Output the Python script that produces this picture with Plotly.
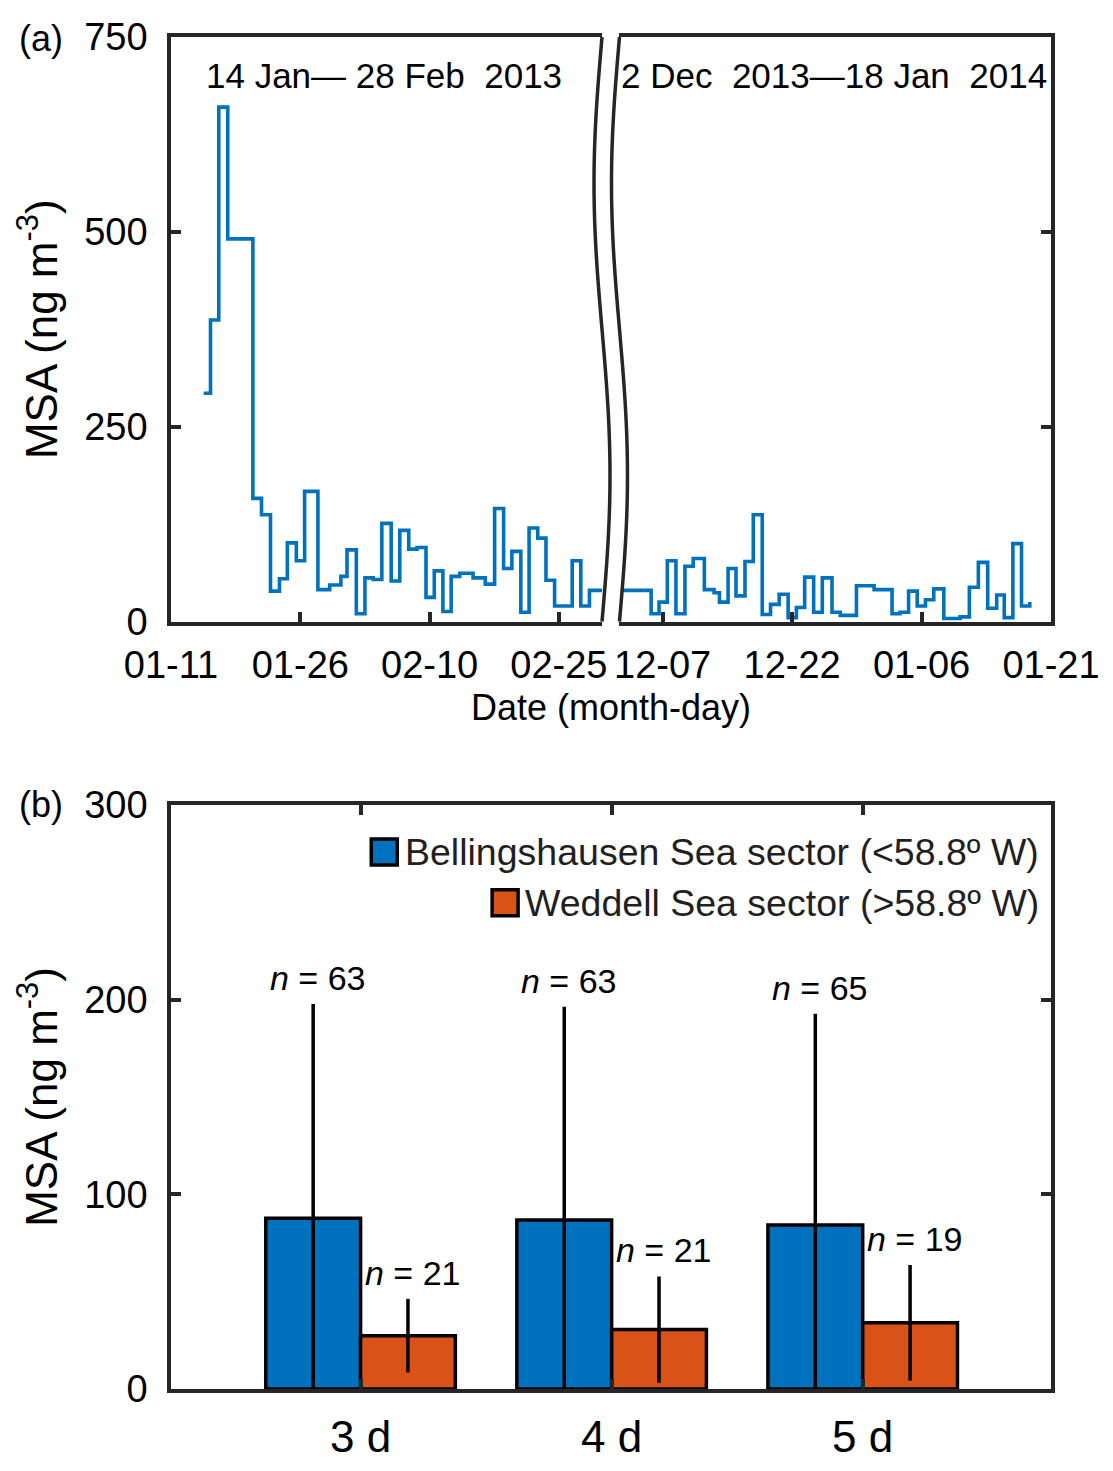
import numpy as np
import plotly.graph_objects as go

# ---------------- data ----------------
msa_dates = [
    "2013-01-14 19:00", "2013-01-15 14:00", "2013-01-16 13:00", "2013-01-17 14:00",
    "2013-01-20 12:00", "2013-01-21 12:00", "2013-01-22 13:00", "2013-01-23 14:00",
    "2013-01-24 12:00", "2013-01-25 13:00", "2013-01-26 12:00", "2013-01-28 01:00",
    "2013-01-29 10:00", "2013-01-30 17:00", "2013-01-31 10:00", "2013-02-01 12:00",
    "2013-02-02 12:00", "2013-02-03 11:00", "2013-02-04 11:00", "2013-02-05 13:00",
    "2013-02-06 13:00", "2013-02-07 14:00", "2013-02-08 13:00", "2013-02-09 14:00",
    "2013-02-10 13:00", "2013-02-11 13:00", "2013-02-12 12:00", "2013-02-13 12:00",
    "2013-02-15 01:00", "2013-02-16 11:00", "2013-02-17 13:00", "2013-02-18 14:00",
    "2013-02-19 13:00", "2013-02-20 14:00", "2013-02-21 13:00", "2013-02-22 13:00",
    "2013-02-23 12:00", "2013-02-24 12:00", "2013-02-26 13:00", "2013-02-27 13:00",
    "2013-02-28 13:00",
    "2013-12-05 16:00", "2013-12-06 14:00", "2013-12-07 13:00", "2013-12-08 13:00",
    "2013-12-09 14:00", "2013-12-10 13:00", "2013-12-11 20:00", "2013-12-12 23:00",
    "2013-12-13 14:00", "2013-12-14 14:00", "2013-12-15 12:00", "2013-12-16 13:00",
    "2013-12-17 12:00", "2013-12-18 13:00", "2013-12-19 12:00", "2013-12-20 12:00",
    "2013-12-21 13:00", "2013-12-22 12:00", "2013-12-23 11:00", "2013-12-24 12:00",
    "2013-12-25 12:00", "2013-12-26 15:00", "2013-12-27 14:00", "2013-12-29 11:00",
    "2013-12-31 12:00", "2014-01-02 14:00", "2014-01-03 12:00", "2014-01-04 12:00",
    "2014-01-05 12:00", "2014-01-06 11:00", "2014-01-07 10:00", "2014-01-08 14:00",
    "2014-01-10 11:00", "2014-01-11 13:00", "2014-01-12 14:00", "2014-01-13 16:00",
    "2014-01-14 17:00", "2014-01-15 14:00", "2014-01-16 14:00", "2014-01-17 14:00",
    "2014-01-18 13:00",
]
msa_values = [
    293, 387, 660, 491,
    158, 137, 39, 55,
    101, 78, 167, 41,
    47, 58, 92, 10,
    56, 54, 126, 52,
    117, 93, 95, 31,
    65, 13, 58, 62,
    56, 48, 145, 68,
    90, 12, 120, 107,
    53, 20, 78, 20,
    40,
    10, 25, 78, 10,
    71, 81, 41, 37,
    25, 68, 33, 77,
    137, 9, 22, 35,
    5, 18, 57, 12,
    56, 12, 8, 46,
    41, 10, 12, 39,
    20, 28, 42, 4,
    6, 44, 76, 17,
    34, 5, 100, 20,
    25,
]
period1_range = ["2013-01-11", "2013-03-02"]
period2_range = ["2013-12-02", "2014-01-21"]
period1_label = "14 Jan\u2014 28 Feb\u00a0\u00a02013"
period2_label = "2 Dec\u00a0\u00a02013\u201418 Jan\u00a0\u00a02014"

windows = ["3 d", "4 d", "5 d"]
bell_mean = [87.7, 86.8, 84.2]
bell_err = [110.0, 109.6, 108.6]
bell_n = [63, 63, 65]
wedd_mean = [27.4, 30.5, 34.0]
wedd_err = [18.9, 27.3, 29.7]
wedd_n = [21, 21, 19]
series_names = ["Bellingshausen Sea sector (<58.8\u00ba W)",
                "Weddell Sea sector (>58.8\u00ba W)"]

# ---------------- styling / geometry ----------------
FONT = "Liberation Sans, Arial, Helvetica, sans-serif"
BLUE = "#0072BD"
ORANGE = "#D95319"
AX = "#262626"
PAGE_OFF = 8                      # default page margin around the figure
W, H = 1113 - PAGE_OFF, 1471 - PAGE_OFF
# target frame edges in window pixels
L_PX, R_PX = 170.5, 1051.5
TA_PX, BA_PX = 36.5, 621.5
TB_PX, BB_PX = 805.0, 1389.5
ML = L_PX - PAGE_OFF
MR = W - (R_PX - PAGE_OFF)
MT = TA_PX - PAGE_OFF
MB = H - (BB_PX - PAGE_OFF)
PW, PH = W - ML - MR, H - MT - MB


def pxx(xp):
    return (xp - PAGE_OFF - ML) / PW


def pxy(yp):
    return (H - MB - (yp - PAGE_OFF)) / PH


ya_dom = [pxy(BA_PX), 1.0]
yb_dom = [0.0, pxy(TB_PX)]
xl_dom = [0.0, pxx(602)]
xr_dom = [pxx(619.5), 1.0]

fig = go.Figure()

# panel (a): same series on both broken axes
for xa, ya in (("x", "y"), ("x2", "y2")):
    fig.add_trace(go.Scatter(
        x=msa_dates, y=msa_values, mode="lines", line_shape="hv",
        line=dict(color=BLUE, width=3.6), xaxis=xa, yaxis=ya, showlegend=False,
        hoverinfo="x+y"))

# panel (b): grouped bars
xpos = [1, 2, 3]
for means, errs, col, nm in ((bell_mean, bell_err, BLUE, series_names[0]),
                             (wedd_mean, wedd_err, ORANGE, series_names[1])):
    fig.add_trace(go.Bar(
        x=xpos, y=means, name=nm, xaxis="x3", yaxis="y3", showlegend=False,
        marker=dict(color=col, line=dict(color="black", width=3.5)),
        error_y=dict(type="data", array=errs, visible=True, color="black",
                     thickness=3.5, width=0)))

tickfont = dict(family=FONT, size=38, color="black")
common = dict(showline=True, linecolor=AX, linewidth=3.5, ticks="inside",
              ticklen=10, tickwidth=3.5, tickcolor=AX, showgrid=False,
              zeroline=False, tickfont=tickfont, automargin=False)
ytitle = dict(text="MSA (ng m<sup>-3</sup>)",
              font=dict(family=FONT, size=44, color="black"), standoff=14)

fig.update_layout(
    template="none",
    width=W, height=H, paper_bgcolor="white", plot_bgcolor="white",
    margin=dict(l=ML, r=MR, t=MT, b=MB, autoexpand=False),
    font=dict(family=FONT, color="black"),
    showlegend=False,
    barmode="group", bargap=0.245, bargroupgap=0.0,
    xaxis=dict(domain=xl_dom, anchor="y", type="date", range=period1_range,
               tick0="2013-01-11", dtick=15 * 86400000, tickformat="%m-%d",
               mirror=True, ticklabelstandoff=7, **common),
    xaxis2=dict(domain=xr_dom, anchor="y2", type="date", range=period2_range,
                tick0="2013-12-07", dtick=15 * 86400000, tickformat="%m-%d",
                mirror=True, ticklabelstandoff=7, **common),
    yaxis=dict(domain=ya_dom, anchor="x", range=[0, 750], tick0=0, dtick=250,
               ticklabelstandoff=12, title=ytitle, **common),
    yaxis2=dict(domain=ya_dom, anchor="x2", range=[0, 750], tick0=0, dtick=250,
                side="right", showticklabels=False, **common),
    xaxis3=dict(domain=[0, 1], anchor="y3", range=[0.245, 3.75],
                tickmode="array", tickvals=xpos, ticktext=windows,
                mirror="ticks", ticklabelstandoff=6,
                **{**common, "tickfont": dict(family=FONT, size=44, color="black")}),
    yaxis3=dict(domain=yb_dom, anchor="x3", range=[0, 300], tick0=0, dtick=100,
                mirror="ticks", ticklabelstandoff=12, title=ytitle, **common),
)

# axis-break: white mask and two wavy lines
ys = np.linspace(TA_PX, BA_PX, 80)
wave = 8 * np.sin(2 * np.pi * (ys - TA_PX) / (BA_PX - TA_PX))
left_x = 602 - wave
right_x = 619.5 - wave


def path_of(xs, yv, close=False):
    s = "M " + " L ".join(f"{pxx(a):.5f},{pxy(b):.5f}" for a, b in zip(xs, yv))
    return s + (" Z" if close else "")


mask = path_of(np.concatenate([left_x, right_x[::-1]]),
               np.concatenate([ys, ys[::-1]]), close=True)
fig.add_shape(type="path", path=mask, xref="paper", yref="paper",
              fillcolor="white", line=dict(width=0), layer="above")
for xs in (left_x, right_x):
    fig.add_shape(type="path", path=path_of(xs, ys), xref="paper", yref="paper",
                  line=dict(color=AX, width=3.5), layer="above")

# legend (MATLAB style, right aligned) as key boxes + text
legend_rows = [(852, 371, BLUE), (903, 492, ORANGE)]
for (yc, xk, col), nm in zip(legend_rows, series_names):
    fig.add_shape(type="rect", xref="paper", yref="paper",
                  x0=pxx(xk), x1=pxx(xk + 26), y0=pxy(yc + 13), y1=pxy(yc - 13),
                  fillcolor=col, line=dict(color="black", width=3.5), layer="above")
    fig.add_annotation(text=nm, x=pxx(1041), y=pxy(yc), xref="paper", yref="paper",
                       showarrow=False, xanchor="right", yanchor="middle",
                       font=dict(size=37.5, color="#231F20"))

# annotations
fig.add_annotation(text=period1_label, x=pxx(383.5), y=pxy(75), xref="paper",
                   yref="paper", showarrow=False, font=dict(size=35),
                   xanchor="center", yanchor="middle")
fig.add_annotation(text=period2_label, x=pxx(834.5), y=pxy(75), xref="paper",
                   yref="paper", showarrow=False, font=dict(size=35),
                   xanchor="center", yanchor="middle")
fig.add_annotation(text="Date (month-day)", x=pxx(611), y=pxy(707), xref="paper",
                   yref="paper", showarrow=False, font=dict(size=36),
                   xanchor="center", yanchor="middle")
fig.add_annotation(text="(a)", x=pxx(40), y=pxy(38), xref="paper", yref="paper",
                   showarrow=False, font=dict(size=36),
                   xanchor="center", yanchor="middle")
fig.add_annotation(text="(b)", x=pxx(40), y=pxy(805), xref="paper", yref="paper",
                   showarrow=False, font=dict(size=36),
                   xanchor="center", yanchor="middle")
off = (1 - 0.245) / 4
for i, xv in enumerate(xpos):
    fig.add_annotation(text=f"<i>n</i> = {bell_n[i]}", x=xv - off + 0.02,
                       y=bell_mean[i] + bell_err[i], xref="x3", yref="y3",
                       showarrow=False, font=dict(size=34), xanchor="center",
                       yanchor="bottom", yshift=5)
    fig.add_annotation(text=f"<i>n</i> = {wedd_n[i]}", x=xv + off + 0.02,
                       y=wedd_mean[i] + wedd_err[i], xref="x3", yref="y3",
                       showarrow=False, font=dict(size=34), xanchor="center",
                       yanchor="bottom", yshift=5)

fig.write_html("out.html")
